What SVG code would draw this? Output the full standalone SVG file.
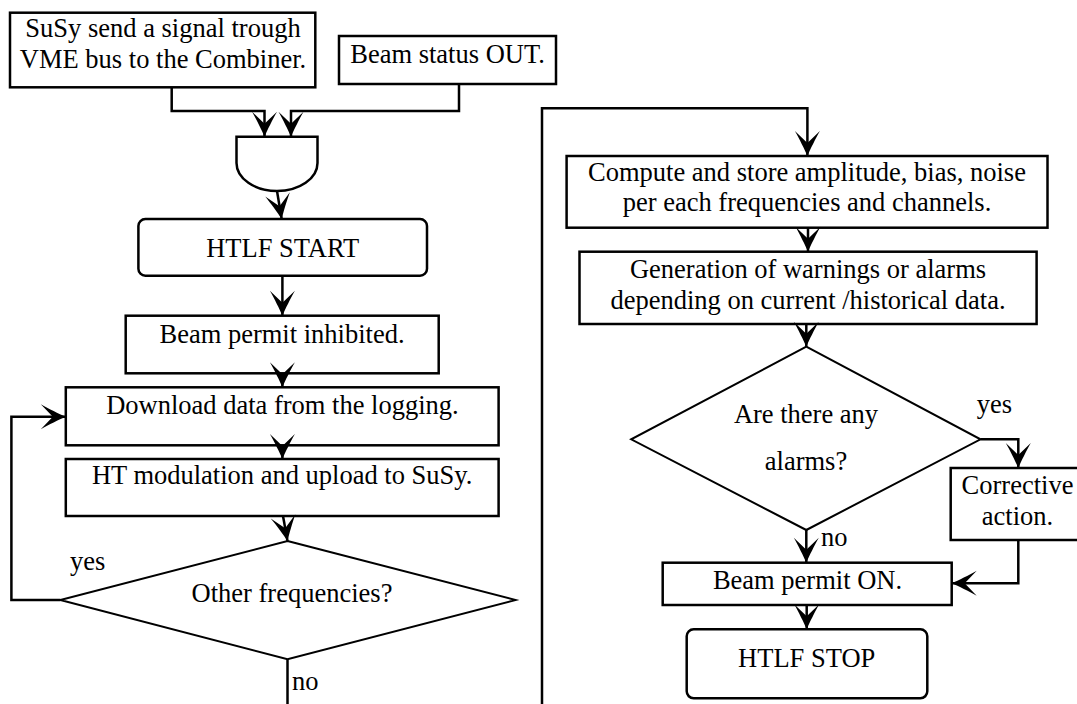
<svg xmlns="http://www.w3.org/2000/svg" width="1077" height="704" viewBox="0 0 1077 704">
<style>
  .box { fill: #fff; stroke: #000; stroke-width: 2.5; }
  .dia { fill: #fff; stroke: #000; stroke-width: 2; }
  .con { fill: none; stroke: #000; stroke-width: 2.5; }
  text { font-family: "Liberation Serif", "Times New Roman", serif; font-size: 26.5px; fill: #000; }
  .c { text-anchor: middle; }
</style>
<defs>
  <marker id="arr" markerUnits="userSpaceOnUse" markerWidth="30" markerHeight="30" viewBox="-27 -15 30 30" refX="0" refY="0" orient="auto" overflow="visible">
    <path d="M0,0 C-7,-3 -17,-8 -25,-12.5 L-13,0 L-25,12.5 C-17,8 -7,3 0,0 Z" fill="#000"/>
  </marker>
</defs>
<rect width="1077" height="704" fill="#fff"/>

<g id="n-susy">
  <rect class="box" x="10" y="12.7" width="305.3" height="74.6"/>
  <text class="c" x="163" y="37.3">SuSy send a signal trough</text>
  <text class="c" x="163" y="68.3">VME bus to the Combiner.</text>
</g>
<g id="n-beamstatus">
  <rect class="box" x="339" y="36" width="217" height="48"/>
  <text class="c" x="447.5" y="63">Beam status OUT.</text>
</g>
<g id="n-gate">
  <path class="box" d="M236.5,136.7 H317.5 V163 A40.5,28 0 0 1 236.5,163 Z"/>
</g>
<g id="n-start">
  <rect class="box" x="138.4" y="219" width="288.6" height="56.7" rx="7"/>
  <text class="c" x="282.7" y="256.5">HTLF START</text>
</g>
<g id="n-inhibit">
  <rect class="box" x="125.7" y="315.7" width="313" height="57.6"/>
  <text class="c" x="282" y="342.7">Beam permit inhibited.</text>
</g>
<g id="n-download">
  <rect class="box" x="65.8" y="387.3" width="432.8" height="58"/>
  <text class="c" x="282.4" y="414">Download data from the logging.</text>
</g>
<g id="n-ht">
  <rect class="box" x="65.8" y="459" width="432.8" height="57"/>
  <text class="c" x="282.2" y="484">HT modulation and upload to SuSy.</text>
</g>
<g id="n-otherfreq">
  <polygon class="dia" points="287.5,541 515.5,600 287.5,659.3 60.3,600"/>
  <text class="c" x="292" y="601.7">Other frequencies?</text>
</g>
<g id="n-compute">
  <rect class="box" x="566.6" y="156" width="480.9" height="71.7"/>
  <text class="c" x="807" y="181.3">Compute and store amplitude, bias, noise</text>
  <text class="c" x="807" y="211.3">per each frequencies and channels.</text>
</g>
<g id="n-generation">
  <rect class="box" x="579.5" y="251.7" width="457.1" height="72.3"/>
  <text class="c" x="808" y="278">Generation of warnings or alarms</text>
  <text class="c" x="808" y="309">depending on current /historical data.</text>
</g>
<g id="n-alarms">
  <polygon class="dia" points="806.3,346.7 980.5,439.3 806.3,530 631.2,439.3"/>
  <text class="c" x="806" y="423.3">Are there any</text>
  <text class="c" x="806" y="470">alarms?</text>
</g>
<g id="n-corrective">
  <rect class="box" x="950.7" y="468" width="140" height="72"/>
  <text class="c" x="1017.5" y="494.3">Corrective</text>
  <text class="c" x="1017.5" y="525">action.</text>
</g>
<g id="n-beamon">
  <rect class="box" x="662.7" y="562.7" width="289" height="42.3"/>
  <text class="c" x="807.5" y="589.3">Beam permit ON.</text>
</g>
<g id="n-stop">
  <rect class="box" x="686.7" y="629.3" width="240.6" height="69" rx="7"/>
  <text class="c" x="806.7" y="666.7">HTLF STOP</text>
</g>

<g id="connectors">
  <polyline class="con" points="171.7,87.3 171.7,111 264.5,111 264.5,136.7" marker-end="url(#arr)"/>
  <polyline class="con" points="459,84 459,111 291,111 291,136.7" marker-end="url(#arr)"/>
  <line class="con" x1="277" y1="191" x2="281.7" y2="219" marker-end="url(#arr)"/>
  <line class="con" x1="282.4" y1="275.7" x2="282.4" y2="315.7" marker-end="url(#arr)"/>
  <line class="con" x1="282.4" y1="373.3" x2="282.4" y2="387.3" marker-end="url(#arr)"/>
  <line class="con" x1="282.4" y1="445.3" x2="282.4" y2="459" marker-end="url(#arr)"/>
  <line class="con" x1="283" y1="516" x2="287.5" y2="541" marker-end="url(#arr)"/>
  <polyline class="con" points="60.3,600 11.4,600 11.4,416.7 65.8,416.7" marker-end="url(#arr)"/>
  <line class="con" x1="287.5" y1="659.3" x2="287.5" y2="704"/>
  <polyline class="con" points="542,704 542,108.3 807.4,108.3 807.4,156" marker-end="url(#arr)"/>
  <line class="con" x1="808" y1="227.7" x2="808" y2="251.7" marker-end="url(#arr)"/>
  <line class="con" x1="806.3" y1="324" x2="806.3" y2="346.7" marker-end="url(#arr)"/>
  <polyline class="con" points="980.5,439.3 1018.3,439.3 1018.3,468" marker-end="url(#arr)"/>
  <polyline class="con" points="1018.3,540 1018.3,583.3 951.7,583.3" marker-end="url(#arr)"/>
  <line class="con" x1="806.3" y1="530" x2="806.3" y2="562.7" marker-end="url(#arr)"/>
  <line class="con" x1="806.7" y1="605" x2="806.7" y2="629.3" marker-end="url(#arr)"/>
  <text x="70" y="570">yes</text>
  <text x="292" y="690">no</text>
  <text x="976.7" y="412.7">yes</text>
  <text x="821" y="546">no</text>
</g>
</svg>
